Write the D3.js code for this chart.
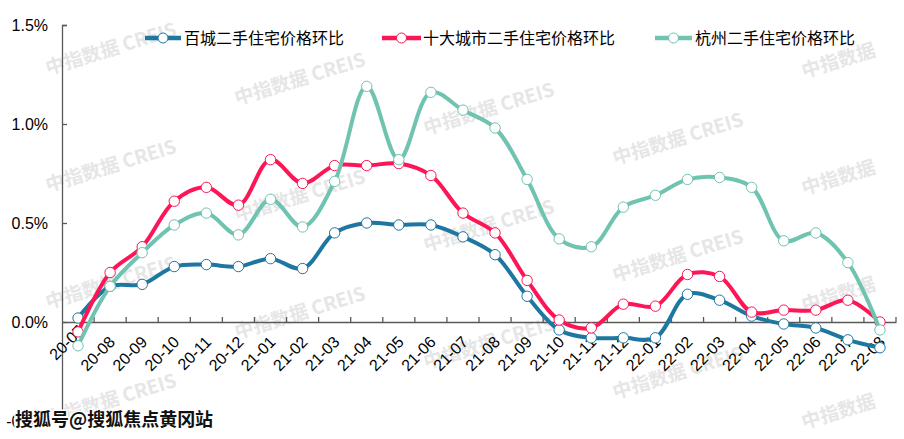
<!DOCTYPE html>
<html>
<head>
<meta charset="utf-8">
<script src="https://cdn.jsdelivr.net/npm/d3@7"></script>
<style>
  html, body { margin: 0; padding: 0; background: #fff; }
  svg { display: block; }
</style>
</head>
<body>
<svg id="chart" width="904" height="439"></svg>
<script>
const categories = ['20-07','20-08','20-09','20-10','20-11','20-12','21-01','21-02','21-03','21-04','21-05','21-06','21-07','21-08','21-09','21-10','21-11','21-12','22-01','22-02','22-03','22-04','22-05','22-06','22-07','22-08'];
const baicheng = [0.02,0.18,0.19,0.28,0.29,0.28,0.32,0.27,0.45,0.50,0.49,0.49,0.43,0.34,0.13,-0.04,-0.08,-0.08,-0.08,0.14,0.11,0.03,-0.01,-0.03,-0.09,-0.13];
const shida = [-0.05,0.25,0.38,0.61,0.68,0.59,0.82,0.70,0.79,0.79,0.80,0.74,0.55,0.45,0.21,0.01,-0.03,0.09,0.08,0.24,0.23,0.05,0.06,0.06,0.11,0.00];
const hangzhou = [-0.12,0.18,0.35,0.49,0.55,0.44,0.62,0.48,0.71,1.19,0.82,1.16,1.07,0.98,0.72,0.42,0.38,0.58,0.64,0.72,0.73,0.68,0.41,0.45,0.30,-0.04];
const seriesNames = ['百城二手住宅价格环比','十大城市二手住宅价格环比','杭州二手住宅价格环比'];
const seriesColors = ['#1d77a0','#fd1656','#6fc3b0'];
const yTicks = [-0.5, 0, 0.5, 1.0, 1.5];

const svg = d3.select('#chart');
const W = 904, H = 439;
const plot = {left: 62, right: 896, top: 25, bottom: 421};

svg.append('rect').attr('width', W).attr('height', H).attr('fill', '#fff');

// watermarks (only those fully inside the picture)
const wm = svg.append('g');
for (let c = 0; c < 5; c++) {
  for (let r = -1; r < 4; r++) {
    const x = 48 + 189 * c;
    const y = 75 + 30 * c + 117 * r;
    const full = c < 4;
    const rise = full ? 44 : 24;
    if (y - rise - 16 < 0 || y + 4 > H) continue;
    wm.append('text')
      .attr('transform', `translate(${x},${y}) rotate(-17)`)
      .attr('font-family', '"Noto Sans CJK SC", sans-serif')
      .attr('font-weight', 'bold')
      .attr('font-size', 19)
      .attr('fill', '#e6e6e6')
      .text(full ? '中指数据 CREIS' : '中指数据');
  }
}

const x = d3.scaleBand().domain(categories).range([plot.left, plot.right]);
const y = d3.scaleLinear().domain([-0.5, 1.5]).range([plot.bottom, plot.top]);
const cx = d => x(d) + x.bandwidth() / 2;

// y axis
const yAxis = d3.axisLeft(y).tickValues(yTicks).tickSize(-5).tickPadding(14)
  .tickFormat(d => d.toFixed(1) + '%');
const yg = svg.append('g').attr('transform', `translate(${plot.left},0)`).call(yAxis);
yg.select('.domain').attr('stroke', '#595959').attr('stroke-width', 1.3);
yg.selectAll('.tick line').attr('stroke', '#595959').attr('stroke-width', 1.3);
yg.selectAll('.tick text').attr('font-family', '"Liberation Sans", Arial, sans-serif')
  .attr('font-size', 16).attr('fill', '#000');

// x axis at 0
const y0 = y(0);
const xAxis = d3.axisBottom(x).tickSize(0).tickFormat('');
const xg = svg.append('g').attr('transform', `translate(0,${y0})`).call(xAxis);
xg.select('.domain').attr('stroke', '#595959').attr('stroke-width', 1.3);
const bounds = categories.map(c => x(c)).concat([plot.right]).slice(1);
xg.selectAll('.bt').data(bounds).enter().append('line')
  .attr('x1', d => d).attr('x2', d => d).attr('y1', 0).attr('y2', -5)
  .attr('stroke', '#595959').attr('stroke-width', 1.3);
svg.append('g').selectAll('text').data(categories).enter().append('text')
  .attr('transform', (d, i) => i === 0
    ? `translate(${cx(d) + 7},${y0 + 10}) rotate(-45)`
    : `translate(${cx(d) + 6},${y0 + 21}) rotate(-45)`)
  .attr('text-anchor', 'end')
  .attr('font-family', '"Liberation Sans", Arial, sans-serif')
  .attr('font-size', 16)
  .attr('fill', '#000')
  .text(d => d);

// series
const allSeries = [baicheng, shida, hangzhou];
const line = d3.line().x((d, i) => cx(categories[i])).y(d => y(d)).curve(d3.curveCatmullRom.alpha(0.5));
allSeries.forEach((vals, si) => {
  const g = svg.append('g');
  g.append('path').datum(vals).attr('d', line).attr('fill', 'none')
    .attr('stroke', seriesColors[si]).attr('stroke-width', 4).attr('stroke-linejoin', 'round');
  g.selectAll('circle').data(vals).enter().append('circle')
    .attr('cx', (d, i) => cx(categories[i])).attr('cy', d => y(d)).attr('r', 5.2)
    .attr('fill', '#fff').attr('stroke', seriesColors[si]).attr('stroke-width', 1);
});

// legend
const legendItems = [
  {x1: 145, x2: 181, tx: 184},
  {x1: 382, x2: 421, tx: 423},
  {x1: 655, x2: 692, tx: 695}
];
legendItems.forEach((li, i) => {
  const g = svg.append('g');
  g.append('line').attr('x1', li.x1).attr('x2', li.x2).attr('y1', 38).attr('y2', 38)
    .attr('stroke', seriesColors[i]).attr('stroke-width', 4.5);
  g.append('circle').attr('cx', (li.x1 + li.x2) / 2).attr('cy', 38).attr('r', 5)
    .attr('fill', '#fff').attr('stroke', seriesColors[i]).attr('stroke-width', 1);
  g.append('text').attr('x', li.tx).attr('y', 38).attr('dy', '0.36em')
    .attr('font-family', '"Noto Sans CJK SC", sans-serif').attr('font-size', 16)
    .attr('fill', '#000').text(seriesNames[i]);
});

// source overlay
svg.append('text').attr('x', 15).attr('y', 426)
  .attr('font-family', '"Noto Sans CJK SC", sans-serif').attr('font-weight', 'bold')
  .attr('font-size', 18).attr('fill', '#111')
  .attr('stroke', '#fff').attr('stroke-width', 3).attr('paint-order', 'stroke')
  .text('搜狐号@搜狐焦点黄冈站');
</script>
</body>
</html>
